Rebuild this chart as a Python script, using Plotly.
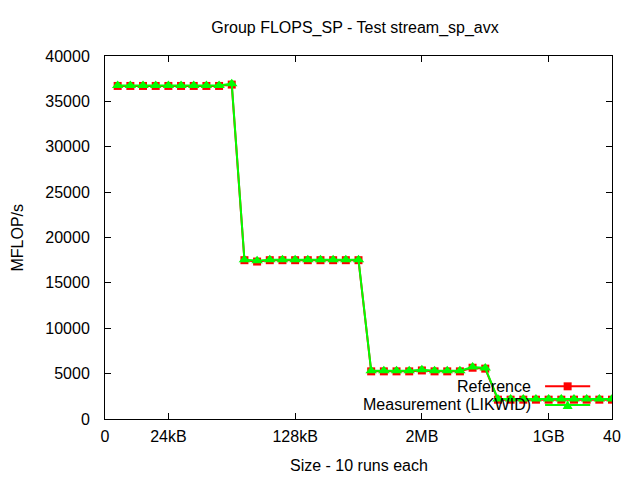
import plotly.graph_objects as go

x_runs = list(range(1, 41))
reference = [36700, 36700, 36700, 36700, 36700, 36700, 36700, 36700, 36700, 36850,
             17500, 17350, 17500, 17500, 17500, 17500, 17500, 17500, 17500, 17500,
             5250, 5250, 5250, 5250, 5350, 5250, 5250, 5250, 5650, 5550,
             2130, 2130, 2130, 2130, 2130, 2130, 2130, 2130, 2130, 2130]
measurement = [36750, 36750, 36750, 36750, 36750, 36750, 36750, 36750, 36750, 36950,
               17550, 17450, 17550, 17550, 17550, 17550, 17550, 17550, 17550, 17550,
               5320, 5320, 5320, 5320, 5420, 5320, 5320, 5320, 5720, 5620,
               2200, 2200, 2200, 2200, 2200, 2200, 2200, 2200, 2200, 2200]
tick_vals = [0, 5, 15, 25, 35, 40]
tick_text = ["0", "24kB", "128kB", "2MB", "1GB", "40"]
y_ticks = [0, 5000, 10000, 15000, 20000, 25000, 30000, 35000, 40000]

FONT = "Liberation Sans, Arial, sans-serif"
FS = 16
RED = "#ff0000"
GREEN = "#00ff00"

# page has an 8px body offset; figure coordinates = page coordinates - 8
L, T = 97, 48
R, B = 36, 69
pw, ph = 640 - L - R, 480 - T - B
plot_bottom = T + ph

fig = go.Figure()
fig.add_trace(go.Scatter(x=x_runs, y=reference, mode="lines+markers", name="Reference",
                         line=dict(color=RED, width=2),
                         marker=dict(symbol="square", size=8, color=RED)))
fig.add_trace(go.Scatter(x=x_runs, y=measurement, mode="lines+markers", name="Measurement (LIKWID)",
                         line=dict(color=GREEN, width=2),
                         marker=dict(symbol="triangle-up", size=10, color=GREEN)))

axis_common = dict(showgrid=False, zeroline=False, showline=True, linecolor="black", linewidth=1,
                   mirror="allticks", ticks="inside", ticklen=6, tickcolor="black", automargin=False,
                   tickfont=dict(family=FONT, size=FS, color="black"))
fig.update_xaxes(range=[0, 40], tickvals=tick_vals, ticktext=tick_text, ticklabelstandoff=3,
                 **axis_common)
fig.update_yaxes(range=[0, 40000], tickvals=y_ticks, tickformat="d", ticklabelstandoff=11,
                 **axis_common)

# axis titles
fig.add_annotation(x=0.5, y=(plot_bottom - (465 - 8)) / ph, xref="paper", yref="paper",
                   text="Size - 10 runs each", showarrow=False, xanchor="center", yanchor="middle",
                   font=dict(family=FONT, size=FS, color="black"))
fig.add_annotation(x=((17 - 8) - L) / pw, y=0.5, xref="paper", yref="paper", text="MFLOP/s",
                   showarrow=False, textangle=-90, xanchor="center", yanchor="middle",
                   font=dict(family=FONT, size=FS, color="black"))

# gnuplot-style legend: text on the left, sample on the right
ly = [0.0900, 0.0386]
labels = ["Reference", "Measurement (LIKWID)"]
colors = [RED, GREEN]
for i in range(2):
    fig.add_annotation(x=0.845, y=ly[i], xref="paper", yref="paper", text=labels[i], showarrow=False,
                       xanchor="right", yanchor="middle", font=dict(family=FONT, size=FS, color="black"))
    fig.add_shape(type="line", xref="paper", yref="paper", x0=0.868, x1=0.957, y0=ly[i], y1=ly[i],
                  line=dict(color=colors[i], width=2))
cx = 0.9125
fig.add_shape(type="rect", xref="paper", yref="paper", x0=cx - 0.0079, x1=cx + 0.0079,
              y0=ly[0] - 0.011, y1=ly[0] + 0.011, fillcolor=RED, line=dict(width=0))
fig.add_shape(type="path", xref="paper", yref="paper",
              path=f"M {cx - 0.0099} {ly[1] - 0.011} L {cx + 0.0099} {ly[1] - 0.011} L {cx} {ly[1] + 0.013} Z",
              fillcolor=GREEN, line=dict(width=0))

fig.update_layout(width=640, height=480, showlegend=False,
                  plot_bgcolor="white", paper_bgcolor="white",
                  margin=dict(l=L, r=R, t=T, b=B, autoexpand=False),
                  title=dict(text="Group FLOPS_SP - Test stream_sp_avx", x=(355 - 8) / 640, xanchor="center",
                             y=1 - (27 - 8) / 480, yanchor="middle",
                             font=dict(family=FONT, size=FS, color="black")))
fig.write_html("out.html")
